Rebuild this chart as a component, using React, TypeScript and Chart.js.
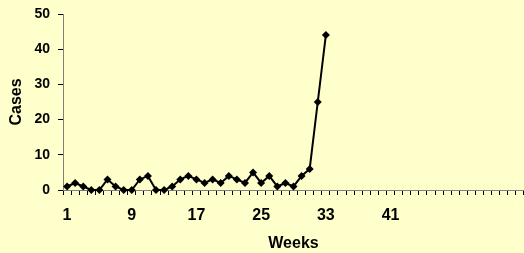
import React, { useEffect, useRef } from "react";
import { Chart, registerables } from "chart.js";

Chart.register(...registerables);

const weeks: string[] = Array.from({ length: 57 }, (_, i) => String(i + 1));
const cases: (number | null)[] = [
  1, 2, 1, 0, 0, 3, 1, 0, 0, 3, 4, 0, 0, 1, 3, 4, 3, 2, 3, 2, 4, 3, 2, 5, 2, 4, 1, 2, 1, 4, 6, 25, 44,
];
const shownWeekLabels: string[] = ["1", "9", "17", "25", "33", "41"];
const yTicks: number[] = [0, 10, 20, 30, 40, 50];

const FONT = "'Liberation Sans', Arial, sans-serif";

export default function App() {
  const ref = useRef<HTMLCanvasElement | null>(null);

  useEffect(() => {
    document.body.style.margin = "0";
    const canvas = ref.current;
    if (!canvas) return;
    const bg = {
      id: "bg",
      beforeDraw(chart: any) {
        const { ctx, width, height } = chart;
        ctx.save();
        ctx.fillStyle = "#FFFFCC";
        ctx.fillRect(0, 0, width, height);
        ctx.restore();
      },
    };
    const data = weeks.map((_, i) => (i < cases.length ? cases[i] : null));
    const chart = new Chart(canvas, {
      type: "line",
      data: {
        labels: weeks,
        datasets: [
          {
            data,
            borderColor: "#000",
            backgroundColor: "#000",
            borderWidth: 2,
            pointStyle: "rectRot",
            pointRadius: 4,
            pointBorderWidth: 0,
            pointBackgroundColor: "#000",
            tension: 0,
            spanGaps: false,
            clip: false,
          },
        ],
      },
      options: {
        animation: false,
        responsive: true,
        maintainAspectRatio: false,
        layout: { autoPadding: false, padding: { top: 14, right: 0, left: 0, bottom: 0 } },
        plugins: { legend: { display: false }, tooltip: { enabled: false } },
        scales: {
          x: {
            type: "category",
            offset: true,
            grid: {
              offset: true,
              drawOnChartArea: false,
              drawTicks: true,
              tickLength: 5,
              color: "#000",
            },
            border: { color: "#808080", width: 1 },
            ticks: {
              autoSkip: false,
              maxRotation: 0,
              padding: 11,
              color: "#000",
              font: { family: FONT, size: 16, weight: "bold" },
              callback: function (this: any, _v: any, index: number) {
                const l = weeks[index];
                return shownWeekLabels.includes(l) ? l : "";
              },
            },
            title: {
              display: true,
              text: "Weeks",
              color: "#000",
              font: { family: FONT, size: 16, weight: "bold" },
              padding: { top: 0, bottom: 0 },
            },
            afterFit: (s: any) => {
              s.height = 63;
              s.paddingLeft = 0;
              s.paddingRight = 0;
            },
          },
          y: {
            min: 0,
            max: 50,
            afterBuildTicks: (s: any) => {
              s.ticks = yTicks.map((v) => ({ value: v }));
            },
            grid: {
              drawOnChartArea: false,
              drawTicks: true,
              tickLength: 5,
              color: "#000",
            },
            border: { color: "#808080", width: 1 },
            ticks: {
              padding: 8,
              color: "#000",
              font: { family: FONT, size: 14, weight: "bold" },
            },
            title: {
              display: true,
              text: "Cases",
              color: "#000",
              font: { family: FONT, size: 16, weight: "bold" },
              padding: { top: 7, bottom: 0 },
            },
            afterFit: (s: any) => {
              s.width = 63;
              s.paddingTop = 0;
              s.paddingBottom = 0;
            },
          },
        },
      },
      plugins: [bg],
    });
    return () => chart.destroy();
  }, []);

  return (
    <div style={{ position: "fixed", left: 0, top: 0, width: 524, height: 253 }}>
      <canvas ref={ref} />
    </div>
  );
}
